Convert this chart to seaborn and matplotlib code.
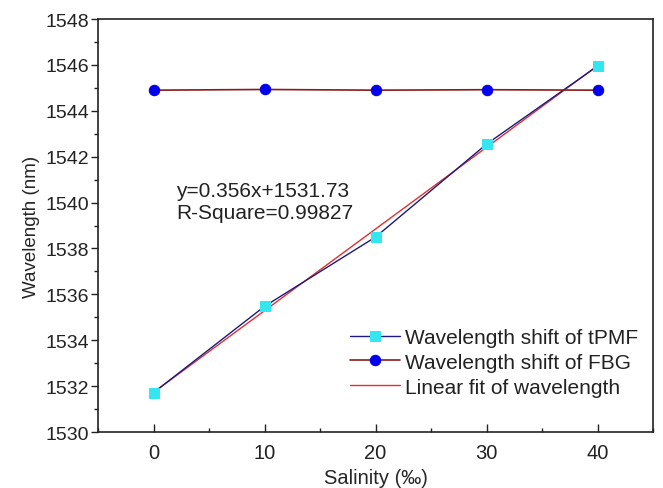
import matplotlib
matplotlib.use("Agg")
import matplotlib.pyplot as plt
import seaborn as sns
import pandas as pd
from matplotlib.ticker import MultipleLocator

salinity = [0, 10, 20, 30, 40]
tpmf = [1531.72, 1535.48, 1538.50, 1542.55, 1545.95]
fbg = [1544.90, 1544.93, 1544.90, 1544.92, 1544.90]
fit_x = [0, 40]
fit_y = [1531.73, 1545.97]

sns.set_theme(style="ticks")
plt.rcParams['font.family'] = ['Liberation Sans', 'DejaVu Sans']

fig = plt.figure(figsize=(6.63, 4.89), dpi=100)
ax = fig.add_axes([0.148, 0.1145, 0.837, 0.8445])

sns.lineplot(x=fit_x, y=fit_y, ax=ax, color='#e03030', lw=1.0,
             label='Linear fit of wavelength', zorder=2)
sns.lineplot(x=salinity, y=tpmf, ax=ax, color='#1a1a80', lw=1.0, marker='s',
             markersize=7, markerfacecolor='#33e6f0', markeredgecolor='#33e6f0',
             label='Wavelength shift of tPMF', zorder=3)
sns.lineplot(x=salinity, y=fbg, ax=ax, color='#8b1a1a', lw=1.2, marker='o',
             markersize=7.5, markerfacecolor='#0000ee', markeredgecolor='#0000ee',
             label='Wavelength shift of FBG', zorder=4)

ax.set_xlim(-5, 45)
ax.set_ylim(1530, 1548)
ax.xaxis.set_major_locator(MultipleLocator(10))
ax.xaxis.set_minor_locator(MultipleLocator(5))
ax.yaxis.set_major_locator(MultipleLocator(2))
ax.yaxis.set_minor_locator(MultipleLocator(1))
ax.tick_params(axis='x', which='both', direction='in', labelsize=14.5, colors='#222222')
ax.tick_params(axis='x', which='major', length=6, width=1, pad=8)
ax.tick_params(axis='x', which='minor', length=3, width=1)
ax.tick_params(axis='y', which='both', direction='out', labelsize=14, colors='#222222')
ax.tick_params(axis='y', which='major', length=5, width=1, pad=1.5)
ax.tick_params(axis='y', which='minor', length=3, width=1)
for s in ax.spines.values():
    s.set_color('#222222')
    s.set_linewidth(1.2)

ax.set_xlabel('Salinity (‰)', fontsize=14.5, labelpad=4)
ax.set_ylabel('Wavelength (nm)', fontsize=13.5, labelpad=4)

ax.text(2.0, 1540.05, 'y=0.356x+1531.73\nR-Square=0.99827', fontsize=15,
        va='center', ha='left', linespacing=1.15, color='#222222')

h, l = ax.get_legend_handles_labels()
order = [1, 2, 0]
leg = ax.legend([h[i] for i in order], [l[i] for i in order], frameon=False,
                loc='upper left', bbox_to_anchor=(0.454, 0.252), fontsize=15,
                handlelength=2.4, handletextpad=0.25, labelspacing=0.28,
                borderaxespad=0, borderpad=0)
for t in leg.get_texts():
    t.set_color('#222222')

fig.savefig('out.png', dpi=100)
